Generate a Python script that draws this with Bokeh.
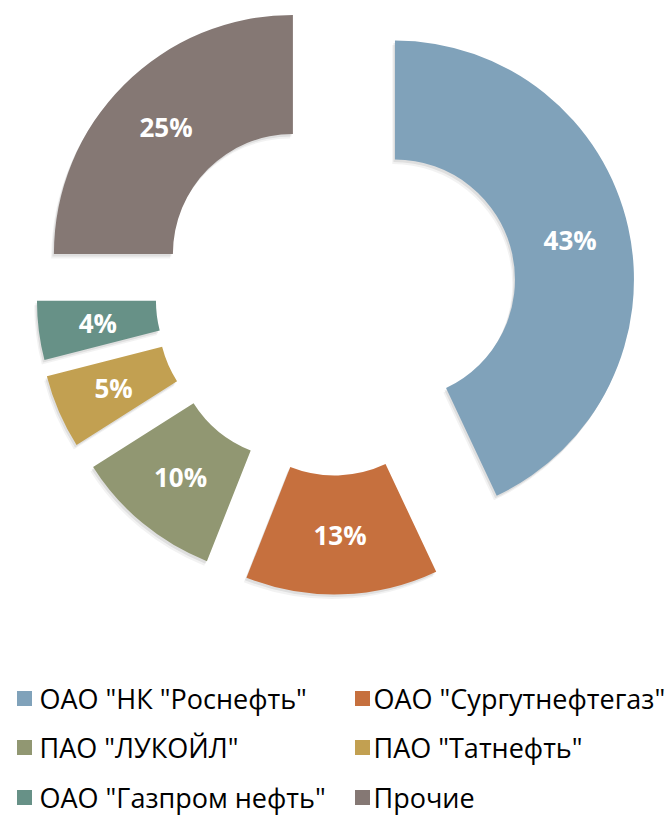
import math
from bokeh.plotting import figure
from bokeh.models import Range1d
from bokeh.embed import file_html
from bokeh.resources import INLINE
from bokeh.core.properties import value

companies = ['ОАО "НК "Роснефть"', 'ОАО "Сургутнефтегаз"', 'ПАО "ЛУКОЙЛ"',
             'ПАО "Татнефть"', 'ОАО "Газпром нефть"', 'Прочие']
shares = [43, 13, 10, 5, 4, 25]
colors = ["#80A2BA", "#C6703E", "#919772", "#C2A051", "#679187", "#857874"]

W, H = 671, 815
p = figure(width=W, height=H, x_range=Range1d(0, W), y_range=Range1d(0, H),
           output_backend="svg", toolbar_location=None, min_border=0,
           x_axis_location=None, y_axis_location=None)
p.grid.visible = False
p.outline_line_color = None
p.background_fill_color = "white"

CX, CY = 332, 522
R_OUT, R_IN = 239, 120
EXPLODE = [64, 62, 59, 59, 57, 56]

total = float(sum(shares))
cum = 0.0
for name, v, c, ex in zip(companies, shares, colors, EXPLODE):
    a0 = cum / total * 2 * math.pi
    cum += v
    a1 = cum / total * 2 * math.pi
    mid = (a0 + a1) / 2
    # clockwise from 12 o'clock
    dx = math.sin(mid)
    dy = math.cos(mid)
    cx = CX + ex * dx
    cy = CY + ex * dy
    start = math.pi / 2 - a0
    end = math.pi / 2 - a1
    for off, al in [(4.5, 0.05), (2.5, 0.08)]:
        p.annular_wedge(x=[cx - off * 0.6], y=[cy - off], inner_radius=R_IN, outer_radius=R_OUT,
                        start_angle=start, end_angle=end, direction="clock",
                        fill_color="black", fill_alpha=al, line_color=None)
    p.annular_wedge(x=[cx], y=[cy], inner_radius=R_IN, outer_radius=R_OUT,
                    start_angle=start, end_angle=end, direction="clock",
                    fill_color=c, line_color=None)
    lr = (R_IN + R_OUT) / 2
    p.text(x=[cx + lr * dx], y=[cy + lr * dy], text=[f"{v}%"],
           text_align="center", text_baseline="middle", text_color="white",
           text_font=value("Open Sans"), text_font_style="bold", text_font_size="26px")

# legend (two columns, three rows)
mark_x = [24, 362]
text_x = [39, 373]
row_y = [117, 68, 18]
for i, (name, c) in enumerate(zip(companies, colors)):
    col, row = i % 2, i // 2
    p.scatter(x=[mark_x[col]], y=[row_y[row]], marker="square", size=15,
              fill_color=c, line_color=None)
    p.text(x=[text_x[col]], y=[row_y[row]], text=[name], text_align="left",
           text_baseline="middle", text_color="black",
           text_font=value("Open Sans"), text_font_size="27px")

open("out.html", "w").write(file_html(p, INLINE))
